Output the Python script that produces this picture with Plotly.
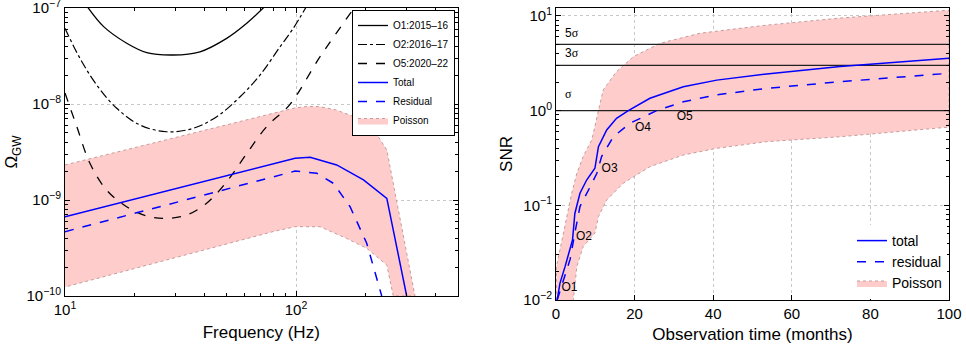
import plotly.graph_objects as go

# ---------------- Left panel: Omega_GW vs frequency ----------------
o1_freq = [12.5, 14.7, 18.5, 22.6, 29.4, 38.4, 50.1, 61.2, 73.0]
o1_omega = [1.03e-7, 6.4e-8, 4.3e-8, 3.43e-8, 3.24e-8, 3.5e-8, 4.83e-8, 6.93e-8, 1.03e-7]

o2_freq = [10.0, 11.61, 13.71, 16.75, 21.13, 27.54, 35.89, 45.39, 57.28, 69.82, 85.31, 97.27, 110.5]
o2_omega = [6.14e-8, 2.99e-8, 1.58e-8, 9.02e-9, 6.04e-9, 5.14e-9, 5.58e-9, 7.38e-9, 1.19e-8,
            2.00e-8, 3.95e-8, 6.14e-8, 1.02e-7]

o5_freq = [10.0, 11.25, 12.82, 15.14, 18.49, 22.59, 27.54, 33.65, 41.02, 50.12, 61.24, 74.65,
           94.19, 127.1, 178.5]
o5_omega = [1.30e-8, 5.81e-9, 2.41e-9, 1.27e-9, 8.51e-10, 6.81e-10, 6.44e-10, 6.98e-10, 9.25e-10,
            1.55e-9, 3.06e-9, 5.81e-9, 9.93e-9, 3.11e-8, 1.0e-7]

poisson_up_freq = [10.0, 79.4, 99.1, 112.2, 127.1, 147.9, 171.4, 195.0, 218.8, 247.2, 327.3]
poisson_up_omega = [2.32e-9, 8.04e-9, 9.12e-9, 9.44e-9, 9.38e-9, 8.71e-9, 7.67e-9, 6.53e-9,
                    5.25e-9, 3.32e-9, 1.0e-10]
poisson_lo_freq = [10.0, 79.4, 99.1, 127.1, 165.6, 202.3, 247.2, 263.6]
poisson_lo_omega = [1.24e-10, 4.68e-10, 5.27e-10, 5.27e-10, 3.98e-10, 3.14e-10, 2.10e-10, 1.0e-10]

total_freq = [10.0, 79.4, 99.1, 115.1, 150.0, 195.9, 247.2, 301.3]
total_omega = [6.70e-10, 2.40e-9, 2.72e-9, 2.79e-9, 2.32e-9, 1.62e-9, 1.04e-9, 1.0e-10]

resid_freq = [10.0, 79.4, 99.1, 123.0, 145.2, 171.4, 202.3, 235.0]
resid_omega = [4.68e-10, 1.74e-9, 2.00e-9, 1.90e-9, 1.49e-9, 8.51e-10, 3.55e-10, 1.0e-10]

freq_ticks = [10, 100]
freq_ticktext = ["10<sup>1</sup>", "10<sup>2</sup>"]
freq_minor = [20, 30, 40, 50, 60, 70, 80, 90, 200, 300, 400, 500]
omega_ticks = [1e-10, 1e-9, 1e-8, 1e-7]
omega_ticktext = ["10<sup>−10</sup>", "10<sup>−9</sup>", "10<sup>−8</sup>", "10<sup>−7</sup>"]
omega_minor = [m * 10.0 ** e for e in (-10, -9, -8) for m in range(2, 10)]

# ---------------- Right panel: SNR vs observation time ----------------
snr_total_t = [0.3, 1.0, 2.3, 4.2, 4.8, 6.1, 7.8, 9.9, 10.8, 12.9, 15.4, 18.4, 23.9, 32.4,
               40.9, 53.6, 72.3, 100]
snr_total = [0.01, 0.015, 0.0225, 0.043, 0.082, 0.134, 0.185, 0.246, 0.416, 0.625, 0.83, 1.0,
             1.35, 1.79, 2.1, 2.44, 2.92, 3.57]

snr_resid_t = [0.3, 1.9, 3.6, 4.8, 6.1, 8.7, 10.4, 11.6, 14.6, 18.8, 25.6, 32.4, 40.9, 53.6,
               72.3, 100]
snr_resid = [0.01, 0.016, 0.027, 0.051, 0.097, 0.157, 0.218, 0.327, 0.53, 0.735, 1.0, 1.24,
             1.47, 1.72, 2.02, 2.48]

snr_up_t = [0.1, 0.1, 1.9, 4.0, 5.3, 6.9, 9.1, 10.4, 12.0, 15.4, 19.7, 26.5, 36.6, 46.8, 53.6,
            72.3, 100]
snr_up = [0.01, 0.0225, 0.051, 0.134, 0.218, 0.327, 0.49, 0.86, 1.65, 2.58, 3.72, 5.14, 6.56,
          7.4, 8.0, 9.5, 11.5]
snr_lo_t = [4.4, 5.3, 6.9, 9.9, 10.8, 12.9, 17.1, 23.9, 32.4, 40.9, 53.6, 72.3, 100]
snr_lo = [0.01, 0.0225, 0.0366, 0.051, 0.076, 0.114, 0.171, 0.256, 0.34, 0.40, 0.47, 0.53, 0.67]

sigma_levels = [5, 3, 1]
sigma_labels = ["5<span style='font-family:Liberation Serif'>σ</span>",
                "3<span style='font-family:Liberation Serif'>σ</span>",
                "<span style='font-family:Liberation Serif'>σ</span>"]
sigma_label_t = [2.3, 2.3, 2.3]
sigma_label_snr = [6.45, 3.97, 1.46]

run_labels = ["O1", "O2", "O3", "O4", "O5"]
run_label_t = [1.4, 5.1, 11.6, 20.1, 30.7]
run_label_snr = [0.0134, 0.0463, 0.242, 0.656, 0.857]

time_ticks = [0, 20, 40, 60, 80, 100]
snr_ticks = [0.01, 0.1, 1, 10]
snr_ticktext = ["10<sup>−2</sup>", "10<sup>−1</sup>", "10<sup>0</sup>", "10<sup>1</sup>"]
snr_minor = [m * 10.0 ** e for e in (-2, -1, 0, 1) for m in range(2, 10)]

W, H = 966, 346
FONT = "Liberation Sans, Arial, Helvetica, sans-serif"
BAND_FILL = "#ffcccc"
BAND_LINE = "#c49c9c"
BLUE = "#0000ff"

fig = go.Figure()

# Left panel
fig.add_trace(go.Scatter(
    x=poisson_up_freq + poisson_lo_freq[::-1], y=poisson_up_omega + poisson_lo_omega[::-1],
    fill="toself", fillcolor=BAND_FILL, line=dict(color=BAND_LINE, width=1, dash="dot"),
    mode="lines", name="Poisson", legend="legend", xaxis="x", yaxis="y", legendrank=6))
fig.add_trace(go.Scatter(x=o1_freq, y=o1_omega, mode="lines", name="O1:2015–16",
                         line=dict(color="black", width=1.3, shape="spline"),
                         legend="legend", xaxis="x", yaxis="y", legendrank=1))
fig.add_trace(go.Scatter(x=o2_freq, y=o2_omega, mode="lines", name="O2:2016–17",
                         line=dict(color="black", width=1.2, dash="dashdot", shape="spline"),
                         legend="legend", xaxis="x", yaxis="y", legendrank=2))
fig.add_trace(go.Scatter(x=o5_freq, y=o5_omega, mode="lines", name="O5:2020–22",
                         line=dict(color="black", width=1.3, dash="dash", shape="spline"),
                         legend="legend", xaxis="x", yaxis="y", legendrank=3))
fig.add_trace(go.Scatter(x=total_freq, y=total_omega, mode="lines", name="Total",
                         line=dict(color=BLUE, width=1.5),
                         legend="legend", xaxis="x", yaxis="y", legendrank=4))
fig.add_trace(go.Scatter(x=resid_freq, y=resid_omega, mode="lines", name="Residual",
                         line=dict(color=BLUE, width=1.5, dash="dash"),
                         legend="legend", xaxis="x", yaxis="y", legendrank=5))

# Right panel
fig.add_trace(go.Scatter(
    x=snr_up_t + snr_lo_t[::-1], y=snr_up + snr_lo[::-1],
    fill="toself", fillcolor=BAND_FILL, line=dict(color=BAND_LINE, width=1, dash="dot"),
    mode="lines", name="Poisson", legend="legend2", xaxis="x2", yaxis="y2", legendrank=3))
for lvl in sigma_levels:
    fig.add_trace(go.Scatter(x=[0, 100], y=[lvl, lvl], mode="lines",
                             line=dict(color="#222222", width=1.3), showlegend=False,
                             xaxis="x2", yaxis="y2"))
fig.add_trace(go.Scatter(x=snr_total_t, y=snr_total, mode="lines", name="total",
                         line=dict(color=BLUE, width=1.5),
                         legend="legend2", xaxis="x2", yaxis="y2", legendrank=1))
fig.add_trace(go.Scatter(x=snr_resid_t, y=snr_resid, mode="lines", name="residual",
                         line=dict(color=BLUE, width=1.5, dash="dash"),
                         legend="legend2", xaxis="x2", yaxis="y2", legendrank=2))
fig.add_trace(go.Scatter(x=sigma_label_t, y=sigma_label_snr, mode="text", text=sigma_labels,
                         textposition="middle right", textfont=dict(size=12, color="black", family=FONT),
                         showlegend=False, xaxis="x2", yaxis="y2"))
fig.add_trace(go.Scatter(x=run_label_t, y=run_label_snr, mode="text", text=run_labels,
                         textposition="middle right", textfont=dict(size=12, color="black", family=FONT),
                         showlegend=False, xaxis="x2", yaxis="y2"))

axis_common = dict(showline=True, linecolor="black", linewidth=1, mirror="ticks",
                   ticks="inside", ticklen=5, tickcolor="black", tickwidth=1,
                   showgrid=True, gridcolor="#c8c8c8", griddash="dot", gridwidth=1,
                   zeroline=False, tickfont=dict(size=15, color="black", family=FONT),
                   layer="above traces", automargin=False, ticklabeloverflow="allow")


def minor(vals):
    return dict(tickvals=vals, ticks="inside", ticklen=3, tickcolor="black",
                showgrid=False, gridcolor="rgba(0,0,0,0)")


fig.update_layout(
    width=W, height=H, margin=dict(l=0, r=0, t=0, b=0, autoexpand=False),
    paper_bgcolor="white", plot_bgcolor="white",
    font=dict(family=FONT, color="black"),
    xaxis=dict(type="log", range=[1, 2.699], domain=[65 / W, 457.5 / W],
               tickvals=freq_ticks, ticktext=freq_ticktext, anchor="y", minor=minor(freq_minor),
               title=dict(text="Frequency (Hz)", font=dict(size=17), standoff=9),
               **axis_common),
    yaxis=dict(type="log", range=[-10, -7], domain=[1 - 296 / H, 1 - 8 / H],
               tickvals=omega_ticks, ticktext=omega_ticktext, anchor="x", minor=minor(omega_minor),
               title=dict(text="Ω<sub>GW</sub>", font=dict(size=17), standoff=4),
               **axis_common),
    xaxis2=dict(type="linear", range=[0, 100], domain=[556 / W, 949 / W], tickvals=time_ticks,
                anchor="y2", title=dict(text="Observation time (months)", font=dict(size=17), standoff=7),
                **axis_common),
    yaxis2=dict(type="log", range=[-2, 1.084], domain=[1 - 300 / H, 1 - 8 / H],
                tickvals=snr_ticks, ticktext=snr_ticktext, anchor="x2", minor=minor(snr_minor),
                title=dict(text="SNR", font=dict(size=17), standoff=6),
                **axis_common),
    legend=dict(x=455 / W, xanchor="right", y=1 - 10 / H, yanchor="top",
                bgcolor="white", bordercolor="black", borderwidth=1,
                font=dict(size=10, family=FONT), itemwidth=30, tracegroupgap=0),
    legend2=dict(x=947 / W, xanchor="right", y=1 - 299 / H, yanchor="bottom",
                 bgcolor="white", borderwidth=0,
                 font=dict(size=14, family=FONT), itemwidth=30, tracegroupgap=0),
)

fig.write_html("out.html")
